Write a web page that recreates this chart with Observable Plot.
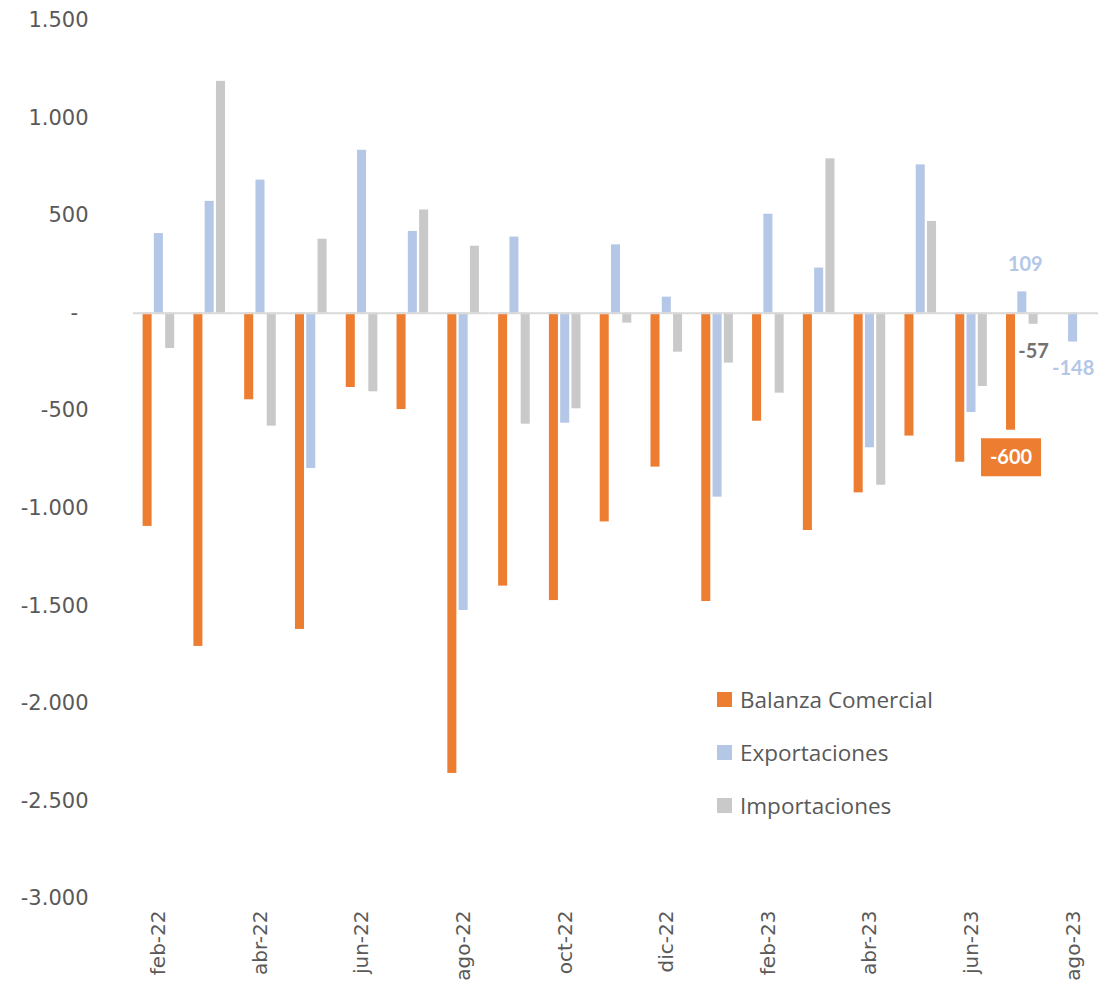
<!DOCTYPE html>
<html>
<head>
<meta charset="utf-8">
<script src="https://cdn.jsdelivr.net/npm/d3@7"></script>
<script src="https://cdn.jsdelivr.net/npm/@observablehq/plot@0.6"></script>
<style>
  body { margin: 0; background: #fff; }
  #wrap { position: relative; width: 1119px; height: 988px; }
  #legend { position: absolute; left: 717px; top: 673px; font-family: "Open Sans", Lato, sans-serif; font-size: 22.5px; color: #595959; }
  .item { display: flex; align-items: center; height: 53px; white-space: nowrap; }
  .sw { width: 15px; height: 15px; margin-right: 8px; flex: none; }
</style>
</head>
<body>
<div id="wrap"><div id="chart"></div><div id="legend"></div></div>
<script>
// ---- data ----
const months = ["feb-22","mar-22","abr-22","may-22","jun-22","jul-22","ago-22","sep-22","oct-22","nov-22","dic-22","ene-23","feb-23","mar-23","abr-23","may-23","jun-23","jul-23","ago-23"];
const seriesNames = ["Balanza Comercial", "Exportaciones", "Importaciones"];
const balanza       = [-1093,-1708,-444,-1621,-381,-494,-2359,-1399,-1473,-1070,-789,-1478,-554,-1114,-921,-630,-764,-600,null];
const exportaciones = [408,573,682,-796,835,419,-1524,390,-564,350,82,-943,507,231,-690,760,-509,109,-148];
const importaciones = [-181,1188,-579,379,-403,529,343,-569,-490,-51,-200,-256,-410,791,-882,470,-376,-57,null];
const yTicks = [-3000,-2500,-2000,-1500,-1000,-500,0,500,1000,1500];
const labeledMonths = ["jul-23","ago-23"];

// ---- styling ----
const colors = ["#ED7D31", "#B4C7E7", "#C9C9C9"];
const labelColors = {"Balanza Comercial": "#FFFFFF", "Exportaciones": "#B4C7E7", "Importaciones": "#767171"};

const seriesArrays = [balanza, exportaciones, importaciones];
const rows = months.flatMap((m, i) => seriesNames.map((s, k) => ({month: m, series: s, value: seriesArrays[k][i]})))
  .filter(d => d.value != null);
const labeled = rows.filter(d => labeledMonths.includes(d.month));

const loc = d3.formatLocale({decimal: ",", thousands: ".", grouping: [3], currency: ["", ""], minus: "-"});
const fmt = loc.format(",d");
const yFmt = d => d === 0 ? "-\u2002" : fmt(d);

const boxSymbol = { draw(ctx) { ctx.rect(-30, -19, 60, 38); } };

const labelMarks = [];
// box behind the Balanza label
labelMarks.push(Plot.dot(labeled.filter(d => d.series === "Balanza Comercial"), {
  fx: "month", x: "series", y: "value", dy: 27, symbol: boxSymbol, r: 5, fill: "#ED7D31", stroke: "none"
}));
for (const s of seriesNames) {
  for (const sign of [1, -1]) {
    const data = labeled.filter(d => d.series === s && Math.sign(d.value) === sign);
    if (!data.length) continue;
    labelMarks.push(Plot.text(data, {
      fx: "month", x: "series", y: "value", text: d => fmt(d.value),
      dy: sign > 0 ? -27 : 27, dx: sign > 0 ? 3 : 0, fill: labelColors[s],
      fontFamily: "Lato, 'Open Sans', sans-serif", fontWeight: "bold", fontSize: 20
    }));
  }
}

const chart = Plot.plot({
  width: 1119,
  height: 988,
  marginLeft: 133,
  marginRight: 21,
  marginTop: 20,
  marginBottom: 90,
  style: { fontFamily: "'DejaVu Sans', sans-serif", fontSize: "20px", color: "#595959", background: "#fff" },
  fx: { domain: months, paddingInner: 0, paddingOuter: 0, round: false, label: null },
  x: { domain: seriesNames, paddingInner: 0.2, paddingOuter: 0.85, round: false, axis: null },
  y: { domain: [-3000, 1500], label: null },
  color: { domain: seriesNames, range: colors },
  marks: [
    Plot.axisY({ ticks: yTicks, tickFormat: yFmt, tickSize: 0, tickPadding: 45, label: null, fontSize: 21 }),
    Plot.axisFx({ anchor: "bottom", tickRotate: -90, tickSize: 0, tickPadding: 12, label: null,
      tickFormat: d => months.indexOf(d) % 2 ? "" : d, fontSize: 20 }),
    Plot.barY(rows, { fx: "month", x: "series", y: "value", fill: "series" }),
    Plot.ruleY([0], { stroke: "#D9D9D9", strokeWidth: 2 }),
    ...labelMarks
  ]
});
document.getElementById("chart").appendChild(chart);

// legend
const legend = document.getElementById("legend");
seriesNames.forEach((s, i) => {
  const item = document.createElement("div");
  item.className = "item";
  const sw = document.createElement("span");
  sw.className = "sw";
  sw.style.background = colors[i];
  const t = document.createElement("span");
  t.textContent = s;
  item.append(sw, t);
  legend.appendChild(item);
});
</script>
</body>
</html>
